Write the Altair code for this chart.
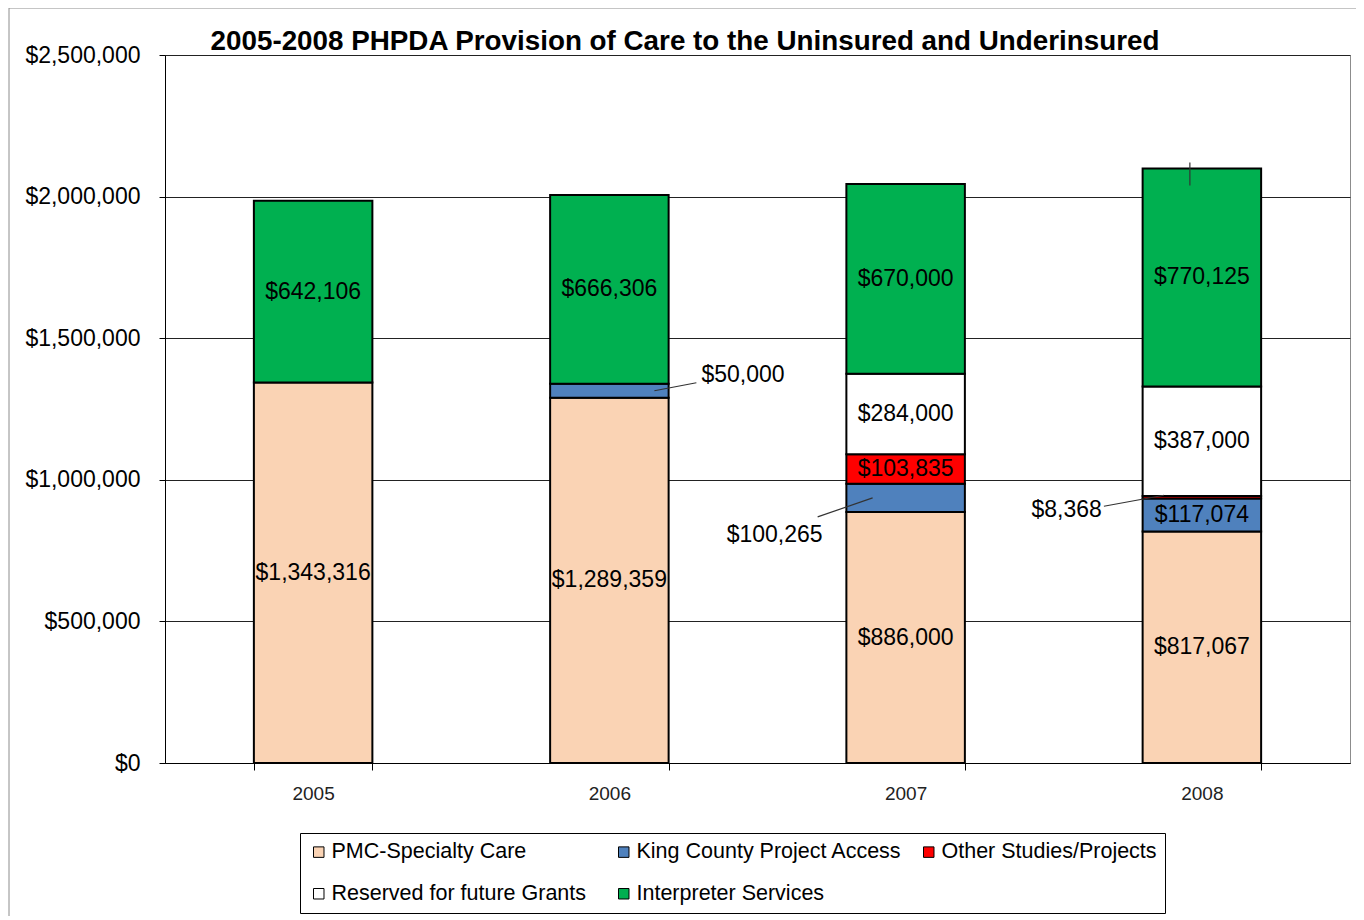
import altair as alt
import pandas as pd

FONT = "Liberation Sans, Arial, sans-serif"

title_text = "2005-2008 PHPDA Provision of Care to the Uninsured and Underinsured"
years = ["2005", "2006", "2007", "2008"]
series = [
    "PMC-Specialty Care",
    "King County Project Access",
    "Other Studies/Projects",
    "Reserved for future Grants",
    "Interpreter Services",
]
pmc = [1343316, 1289359, 886000, 817067]
king_county = [0, 50000, 100265, 117074]
other = [0, 0, 103835, 8368]
reserved = [0, 0, 284000, 387000]
interpreter = [642106, 666306, 670000, 770125]
colors = ["#FAD3B4", "#4F81BD", "#FF0000", "#FFFFFF", "#00B050"]
y_ticks = [0, 500000, 1000000, 1500000, 2000000, 2500000]

rows = []
for i, yr in enumerate(years):
    base = 0
    for s, vals in zip(series, [pmc, king_county, other, reserved, interpreter]):
        v = vals[i]
        if v > 0:
            rows.append(dict(year=yr, series=s, value=v, start=base, end=base + v,
                             mid=base + v / 2, label=f"${v:,}"))
        base += v
df = pd.DataFrame(rows)

# labels placed outside their segment, with leader lines
outside = {
    ("2006", "King County Project Access"): dict(rule=(45, 87, 0, -8), text=(92, -16, "left")),
    ("2007", "King County Project Access"): dict(rule=(-33, -88, 0, 19), text=(-83, 37, "right")),
    ("2008", "Other Studies/Projects"): dict(rule=(-38, -98, -2, 9), text=(-100, 13, "right")),
}
is_out = df.apply(lambda r: (r["year"], r["series"]) in outside, axis=1)
df_in = df[~is_out]

xenc = alt.X(
    "year:N", sort=years,
    scale=alt.Scale(paddingInner=0.6, paddingOuter=0.3),
    axis=alt.Axis(title=None, labelAngle=0, labelFontSize=19, labelColor="#222",
                  labelFont=FONT, labelPadding=14, tickBand="extent", tickSize=7,
                  tickColor="black", domainColor="black", grid=False),
)
yscale = alt.Scale(domain=[0, 2500000], nice=False)
yaxis = alt.Axis(values=y_ticks, format="$,d", title=None, labelFontSize=23,
                 labelColor="black", labelFont=FONT, labelPadding=19, tickSize=6,
                 tickColor="black", domainColor="black", gridColor="#222", gridWidth=1)

border = alt.Chart(pd.DataFrame({"k": [0]})).mark_rect(
    filled=False, stroke="#8c8c8c", strokeWidth=1
).encode(x=alt.value(-156), x2=alt.value(1400), y=alt.value(-47), y2=alt.value(1000))

title = alt.Chart(pd.DataFrame({"t": [title_text]})).mark_text(
    fontSize=27.8, font=FONT, fontWeight="bold", color="black",
    align="center", baseline="alphabetic"
).encode(x=alt.value(520), y=alt.value(-5), text="t:N")

bars = alt.Chart(df).mark_bar(stroke="black", strokeWidth=2).encode(
    x=xenc,
    y=alt.Y("start:Q", scale=yscale, axis=yaxis),
    y2="end:Q",
    color=alt.Color(
        "series:N",
        scale=alt.Scale(domain=series, range=colors),
        legend=alt.Legend(
            title=None, orient="none", legendX=135, legendY=778,
            direction="horizontal", columns=3, gridAlign="all",
            symbolType="square", symbolSize=110, symbolStrokeColor="black",
            symbolStrokeWidth=1, labelFontSize=21.5, labelFont=FONT,
            labelColor="black", labelLimit=400, labelOffset=2,
            columnPadding=16, rowPadding=19, padding=8,
            strokeColor="black", fillColor="white",
        ),
    ),
)

texts_in = alt.Chart(df_in).mark_text(fontSize=23, font=FONT, color="black").encode(
    x=alt.X("year:N", sort=years),
    y=alt.Y("mid:Q", scale=yscale),
    text="label:N",
)

# small leader stub at the top of the 2008 bar
top_2008 = df[(df["year"] == "2008") & (df["series"] == "Interpreter Services")]
stub = alt.Chart(top_2008).mark_rule(color="#333", strokeWidth=1.2, xOffset=-12, x2Offset=-12,
                                     yOffset=-6, y2Offset=17).encode(
    x=alt.X("year:N", sort=years), x2="year:N",
    y=alt.Y("end:Q", scale=yscale), y2="end:Q",
)

layers = [border, title, bars, texts_in, stub]
for (yr, s), spec in outside.items():
    sub = df[(df["year"] == yr) & (df["series"] == s)]
    xo, x2o, yo, y2o = spec["rule"]
    dx, dy, al = spec["text"]
    layers.append(
        alt.Chart(sub).mark_rule(color="#333", strokeWidth=1.2, xOffset=xo, x2Offset=x2o,
                                 yOffset=yo, y2Offset=y2o).encode(
            x=alt.X("year:N", sort=years), x2="year:N",
            y=alt.Y("mid:Q", scale=yscale), y2="mid:Q",
        )
    )
    layers.append(
        alt.Chart(sub).mark_text(fontSize=23, font=FONT, color="black", align=al,
                                 baseline="middle", dx=dx, dy=dy).encode(
            x=alt.X("year:N", sort=years),
            y=alt.Y("mid:Q", scale=yscale),
            text="label:N",
        )
    )

chart = alt.layer(*layers).properties(
    width=1185, height=708,
    autosize=alt.AutoSizeParams(type="none"),
    padding={"left": 157, "top": 47, "right": 6, "bottom": 153},
).configure_view(stroke="#8c8c8c", strokeWidth=1)

chart.save("out.html", embed_options={"renderer": "svg", "actions": False})
